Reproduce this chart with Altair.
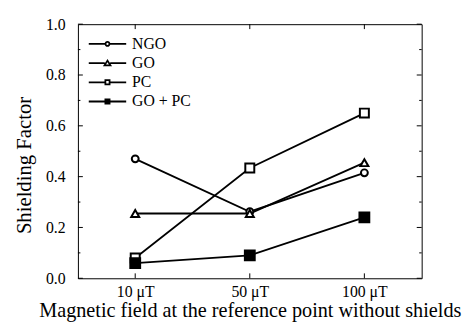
import altair as alt
import pandas as pd

fields = ["10 μT", "50 μT", "100 μT"]
series = ["NGO", "GO", "PC", "GO + PC"]
ngo = [0.470, 0.262, 0.415]
go = [0.255, 0.255, 0.455]
pc = [0.080, 0.434, 0.650]
go_pc = [0.060, 0.090, 0.240]
y_major = [0.0, 0.2, 0.4, 0.6, 0.8, 1.0]
y_minor = [0.1, 0.3, 0.5, 0.7, 0.9]

values = [ngo, go, pc, go_pc]
rows = []
for s, vals in zip(series, values):
    for f, v in zip(fields, vals):
        rows.append({"field": f, "series": s, "value": v})
df = pd.DataFrame(rows)
major_df = pd.DataFrame({"value": y_major})
minor_df = pd.DataFrame({"value": y_minor})
xt_df = pd.DataFrame({"field": fields})

W, H = 349, 258
FONT = "Liberation Serif"

xscale = alt.Scale(type="point", domain=fields, padding=0.5)
yscale = alt.Scale(domain=[0, 1], nice=False)

x_axis = alt.Axis(title="Magnetic field at the reference point without shields",
                  labelAngle=0, labelFontSize=16, labelPadding=6,
                  titleFontSize=20.5, titleY=23, titleBaseline="top")
y_axis = alt.Axis(title="Shielding Factor", values=y_major, format=".1f",
                  labelFontSize=16, labelPadding=13,
                  titleFontSize=21, titlePadding=11, titleY=143)

x_enc = alt.X("field:N", scale=xscale, sort=fields, axis=x_axis)
y_enc = alt.Y("value:Q", scale=yscale, axis=y_axis)

lines = alt.Chart(df).mark_line(color="black", strokeWidth=1.8).encode(
    x=x_enc, y=y_enc, detail="series:N")

points = alt.Chart(df).mark_point(stroke="black", strokeWidth=2, opacity=1).encode(
    x=x_enc, y=y_enc,
    shape=alt.Shape("series:N", scale=alt.Scale(domain=series,
                    range=["circle", "triangle-up", "square", "square"]), legend=None),
    fill=alt.Fill("series:N", scale=alt.Scale(domain=series,
                  range=["white", "white", "white", "black"]), legend=None),
    size=alt.Size("series:N", scale=alt.Scale(domain=series, range=[49, 100, 49, 56]), legend=None),
)

line_part = "M-7.6,0H-1.1M1.1,0H7.6"
legend_paths = [
    line_part + "M0.8,0A0.8,0.8 0 1,1 -0.8,0A0.8,0.8 0 1,1 0.8,0Z",
    line_part + "M0,-1L-1.2,0.9H1.2Z",
    line_part + "M-0.85,-0.85H0.85V0.85H-0.85Z",
    line_part + "M-0.85,-0.85H0.85V0.85H-0.85Z",
]
leg = alt.Legend(title=None, orient="none", legendX=22, legendY=12, padding=0,
                 labelFont=FONT, labelFontSize=16, labelColor="black",
                 labelOffset=17, rowPadding=3.5, symbolSize=25,
                 symbolStrokeWidth=1.8, symbolStrokeColor="black")
legend_layer = alt.Chart(df).transform_filter("datum.value < 0").mark_point(
    opacity=1).encode(
    x=x_enc, y=y_enc,
    shape=alt.Shape("series:N", scale=alt.Scale(domain=series, range=legend_paths), legend=leg),
    fill=alt.Fill("series:N", scale=alt.Scale(domain=series,
                  range=["white", "white", "white", "black"]), legend=leg),
    stroke=alt.Stroke("series:N", scale=alt.Scale(domain=series,
                      range=["black", "black", "black", "black"]), legend=leg),
)

tick_color = "black"
left_major = alt.Chart(major_df).mark_rule(color=tick_color, strokeWidth=1).encode(
    y=y_enc, x=alt.value(0), x2=alt.value(5))
left_minor = alt.Chart(minor_df).mark_rule(color=tick_color, strokeWidth=1).encode(
    y=y_enc, x=alt.value(0), x2=alt.value(2.5))
right_major = alt.Chart(major_df).mark_rule(color=tick_color, strokeWidth=1).encode(
    y=y_enc, x=alt.value(W - 5), x2=alt.value(W))
right_minor = alt.Chart(minor_df).mark_rule(color=tick_color, strokeWidth=1).encode(
    y=y_enc, x=alt.value(W - 2.5), x2=alt.value(W))
top_ticks = alt.Chart(xt_df).mark_rule(color=tick_color, strokeWidth=1).encode(
    x=x_enc, y=alt.value(0), y2=alt.value(5))
bottom_ticks = alt.Chart(xt_df).mark_rule(color=tick_color, strokeWidth=1).encode(
    x=x_enc, y=alt.value(H - 5), y2=alt.value(H))

chart = alt.layer(
    left_major, left_minor, right_major, right_minor, top_ticks, bottom_ticks,
    lines, points, legend_layer
).resolve_scale(
    shape="independent", fill="independent", stroke="independent"
).properties(
    width=W, height=H,
    autosize=alt.AutoSizeParams(type="none"),
    padding={"left": 71, "top": 14, "right": 44, "bottom": 45},
    background="white",
).configure_view(
    stroke="black", strokeWidth=1
).configure_axis(
    domain=False, ticks=False, grid=False, tickSize=0,
    labelFont=FONT, titleFont=FONT, labelColor="black", titleColor="black",
    titleFontWeight="normal"
)

chart.save("out.html", embed_options={"renderer": "svg", "actions": False})
